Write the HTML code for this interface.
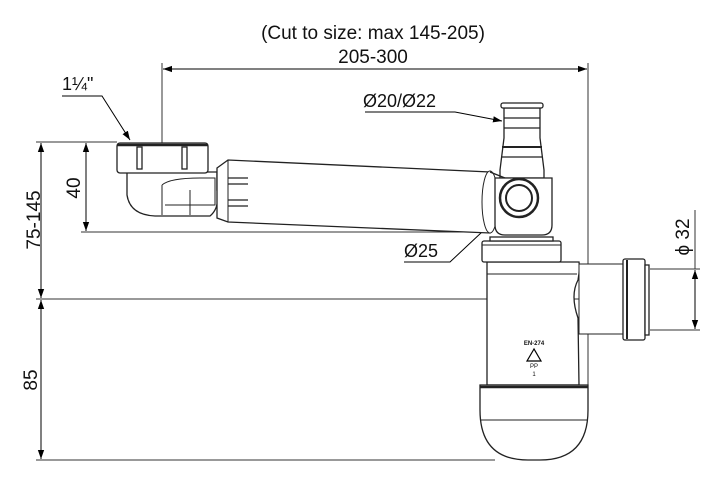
<!DOCTYPE html>
<html><head><meta charset="utf-8"><style>
html,body{margin:0;padding:0;background:#fff;}
svg{display:block;}
text{font-family:"Liberation Sans",sans-serif;fill:#111;}
</style></head><body>
<svg width="720" height="485" viewBox="0 0 720 485" xmlns="http://www.w3.org/2000/svg">
<defs>
<marker id="a" viewBox="0 0 10 10" refX="10" refY="5" markerWidth="9" markerHeight="9" orient="auto-start-reverse" markerUnits="userSpaceOnUse"><path d="M0,1.5 L10,5 L0,8.5 z" fill="#000"/></marker>
</defs>
<g stroke="#333" stroke-width="1" fill="none">
<!-- extension lines -->
<line x1="36" y1="142" x2="117" y2="142"/>
<line x1="36" y1="299" x2="580" y2="299"/>
<line x1="36" y1="460" x2="495" y2="460"/>
<line x1="81" y1="232" x2="470" y2="232"/>
<line x1="162" y1="63" x2="162" y2="172"/>
<line x1="588" y1="63" x2="588" y2="385"/>
<line x1="650" y1="269" x2="700" y2="269"/>
<line x1="650" y1="330" x2="700" y2="330"/>
<line x1="695" y1="210" x2="695" y2="269"/>
</g>
<g stroke="#000" stroke-width="1" fill="none">
<line x1="41" y1="143" x2="41" y2="298" marker-start="url(#a)" marker-end="url(#a)"/>
<line x1="41" y1="300" x2="41" y2="459" marker-start="url(#a)" marker-end="url(#a)"/>
<line x1="86" y1="143" x2="86" y2="231" marker-start="url(#a)" marker-end="url(#a)"/>
<line x1="163" y1="69" x2="587" y2="69" marker-start="url(#a)" marker-end="url(#a)"/>
<line x1="695" y1="270" x2="695" y2="329" marker-start="url(#a)" marker-end="url(#a)"/>
<polyline points="62,96 102,96 130,140" marker-end="url(#a)"/>
<polyline points="365,112 455,112 502,121" marker-end="url(#a)"/>
<polyline points="404,262 450,262 515,201"/>
<line x1="510" y1="206" x2="495" y2="221" marker-start="url(#a)"/>
</g>
<!-- drain -->
<g stroke="#222" stroke-width="1.3" fill="#fff">
<path d="M127,172 L127,195 Q130,215 155,216 L210,216 Q220,208 217,190 L217,172 z"/>
<rect x="117" y="143" width="91" height="30" rx="3"/>
<line x1="117" y1="145" x2="208" y2="145" stroke-width="2.5"/>
<rect x="137" y="147" width="5" height="22"/>
<rect x="182" y="147" width="5" height="22"/>
<path d="M162,185 Q170,178 200,178 L215,178 L215,205 L165,205" stroke-width="1"/>
<line x1="162" y1="185" x2="162" y2="215" stroke-width="1"/>
<line x1="190" y1="190" x2="190" y2="215" stroke-width="1"/>
<!-- pipe -->
<path d="M217,168 L228,160 L490,172 L490,233 L228,222 L217,218 z"/>
<path d="M228,160 L228,222" stroke-width="1"/>
<line x1="228" y1="178" x2="248" y2="178"/><line x1="228" y1="184" x2="248" y2="184"/>
<line x1="228" y1="200" x2="248" y2="200"/><line x1="228" y1="206" x2="248" y2="206"/>
<ellipse cx="490" cy="202" rx="8" ry="31" stroke-width="1"/>
<!-- spout + housing -->
<path d="M504,108 L540,108 L540,138 L544,170 L544,178 L500,178 L500,170 L504,138 z"/>
<rect x="501" y="103" width="42" height="5" rx="2"/>
<line x1="504" y1="118" x2="540" y2="118"/><line x1="504" y1="128" x2="540" y2="128"/>
<line x1="502" y1="147" x2="542" y2="147" stroke-width="2"/><line x1="502" y1="157" x2="542" y2="157"/>
<path d="M495,178 L552,178 L552,225 Q552,235 542,235 L505,235 Q495,235 495,225 z"/>
<line x1="490" y1="172" x2="505" y2="178"/>
<circle cx="519" cy="198" r="19" stroke-width="2.5"/>
<circle cx="519" cy="198" r="13" stroke-width="2"/>
<!-- trap -->
<path d="M487,262 L579,262 Q580,270 578,280 Q570,295 578,318 L579,385 L487,385 z"/>
<path d="M480,385 L588,385 L588,410 Q588,460 540,460 L528,460 Q480,460 480,410 z"/>
<line x1="480" y1="387" x2="588" y2="387" stroke-width="2.5"/>
<line x1="480" y1="420" x2="588" y2="420" stroke-width="1"/>
<line x1="487" y1="274" x2="577" y2="274" stroke-width="1"/>
<rect x="482" y="241" width="79" height="21" rx="2"/>
<line x1="482" y1="245" x2="561" y2="245" stroke-width="1"/>
<rect x="490" y="237" width="63" height="4"/>
<rect x="579" y="264" width="44" height="70" stroke-width="1"/>
<rect x="623" y="259" width="22" height="81" rx="2"/>
<line x1="627" y1="260" x2="627" y2="339" stroke-width="2"/>
<rect x="645" y="265" width="4" height="70"/>
</g>
<g font-size="6" text-anchor="middle"><text x="534" y="345" font-weight="bold">EN-274</text><text x="534" y="368">PP</text><text x="534" y="376">1</text></g>
<path d="M534,349 L527,361 L541,361 z" fill="none" stroke="#000" stroke-width="1.2"/>
<!-- text -->
<text x="373" y="39" font-size="19" text-anchor="middle">(Cut to size: max 145-205)</text>
<text x="373" y="63" font-size="19" text-anchor="middle">205-300</text>
<text x="62" y="90" font-size="18">1¼"</text>
<text x="363" y="107" font-size="18">Ø20/Ø22</text>
<text x="404" y="257" font-size="18">Ø25</text>
<text transform="translate(40,220) rotate(-90)" font-size="19" text-anchor="middle">75-145</text>
<text transform="translate(80,188) rotate(-90)" font-size="19" text-anchor="middle">40</text>
<text transform="translate(37,380) rotate(-90)" font-size="19" text-anchor="middle">85</text>
<text transform="translate(689,237) rotate(-90)" font-size="19" text-anchor="middle">ϕ 32</text>
</svg>
</body></html>
